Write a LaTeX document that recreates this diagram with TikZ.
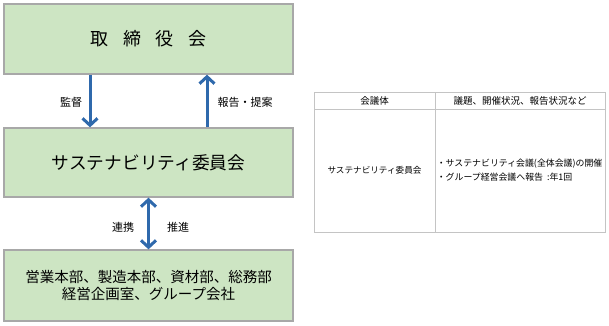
\documentclass[tikz,border=0pt]{standalone}
\usepackage{fontspec}
\setmainfont{Noto Sans CJK JP}
\usetikzlibrary{arrows.meta}
\definecolor{boxgreen}{HTML}{CDE5C3}
\definecolor{boxline}{HTML}{A8A8A8}
\definecolor{arrblue}{HTML}{2F69AC}
\definecolor{tabline}{HTML}{C4C4C4}
\tikzset{
  greenbox/.style={draw=boxline, line width=1.3pt, fill=boxgreen, minimum width=289pt, inner sep=0pt},
  barb/.tip={Straight Barb[length=7pt,width=15pt,line width=3pt]},
  arr/.style={draw=arrblue, line width=3pt, -barb},
  darr/.style={draw=arrblue, line width=3pt, barb-barb},
  lbl/.style={font=\fontsize{11}{13}\selectfont, inner sep=0pt},
  cell/.style={draw=tabline, line width=0.8pt, inner sep=0pt},
}
\begin{document}
\begin{tikzpicture}[x=1pt,y=-1pt]
\useasboundingbox (0,0) rectangle (609,325);
% left diagram
\node[greenbox, minimum height=70pt, font=\fontsize{18}{20}\selectfont] (board) at (148.5,39)
  {取\hspace{14.5pt}締\hspace{14.5pt}役\hspace{14.5pt}会};
\node[greenbox, minimum height=69pt, font=\fontsize{17.7}{20}\selectfont] (cmte) at (148.5,162.5)
  {サステナビリティ委員会};
\node[greenbox, minimum height=71pt, align=center, font=\fontsize{14.5}{16.5}\selectfont] (depts) at (148.5,285.5)
  {営業本部、製造本部、資材部、総務部\\経営企画室、グループ会社};
\draw[arr] ([xshift=-58.5pt]board.south) -- ([xshift=-58.5pt]cmte.north);
\draw[arr] ([xshift=58.5pt]cmte.north) -- ([xshift=58.5pt]board.south);
\draw[darr] (cmte.south) -- (depts.north);
\node[lbl] (l1) at (71,102) {監督};
\node[lbl] (l2) at (245,102) {報告・提案};
\node[lbl] (l3) at (123,227) {連携};
\node[lbl] (l4) at (178,227) {推進};
% table
\node[cell, minimum width=121pt, minimum height=17pt, font=\fontsize{9.5}{12}\selectfont] (h1) at (374.5,100.5) {会議体};
\node[cell, minimum width=170pt, minimum height=17pt, font=\fontsize{9.5}{12}\selectfont] (h2) at (520,100.5) {議題、開催状況、報告状況など};
\node[cell, minimum width=121pt, minimum height=123pt, font=\fontsize{8.6}{12}\selectfont] (b1) at (374.5,170.5) {サステナビリティ委員会};
\node[cell, minimum width=170pt, minimum height=123pt] (b2) at (520,170.5) {};
\node[anchor=west, align=left, inner sep=0pt, font=\fontsize{8.9}{14}\selectfont] (b2t) at ([xshift=2pt]b2.west)
  {・サステナビリティ会議(全体会議)の開催\\・グループ経営会議へ報告\ \ :年1回};
\end{tikzpicture}
\end{document}
